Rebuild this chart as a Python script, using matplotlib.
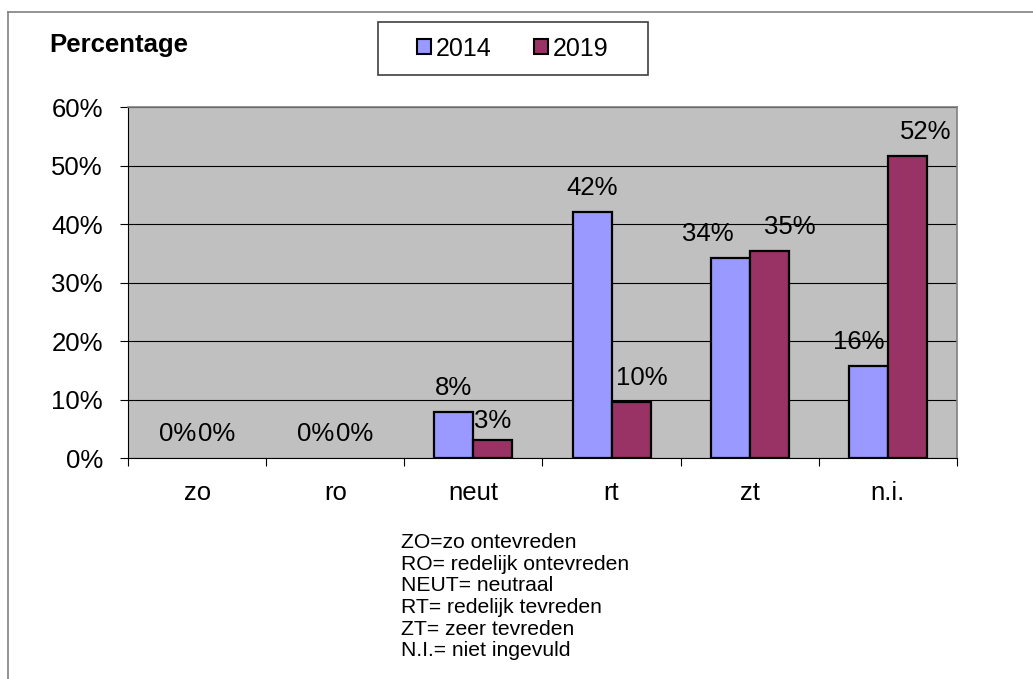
import matplotlib
matplotlib.use("Agg")
import matplotlib.pyplot as plt
from matplotlib.lines import Line2D
from matplotlib.patches import Rectangle, Patch
import numpy as np

plt.rcParams['font.family'] = ['Liberation Sans', 'DejaVu Sans']

categories = ['zo', 'ro', 'neut', 'rt', 'zt', 'n.i.']
years = ['2014', '2019']
vals_2014 = [0, 0, 8.0, 42.1, 34.2, 15.7]
vals_2019 = [0, 0, 3.2, 9.7, 35.4, 51.6]
yticks = [0, 10, 20, 30, 40, 50, 60]
notes = ['ZO=zo ontevreden', 'RO= redelijk ontevreden', 'NEUT= neutraal',
         'RT= redelijk tevreden', 'ZT= zeer tevreden', 'N.I.= niet ingevuld']

colors = ['#9999FF', '#993366']
# label shifts in pixels (Excel moves them to avoid overlap)
shift_2014 = [(0, 17), (0, 17), (0, 17), (0, 17), (-22, 17), (-10, 17)]
shift_2019 = [(0, 17), (0, 17), (0, 12), (11, 17), (21, 17), (18, 17)]

fig = plt.figure(figsize=(10.33, 6.79), dpi=100)
ax = fig.add_axes([0.1239, 0.3248, 0.8025, 0.5176])
ax.set_facecolor('#C0C0C0')

x = np.arange(len(categories))
w = 0.282
series = [vals_2014, vals_2019]
shifts = [shift_2014, shift_2019]
for i in range(2):
    pos = x + (i - 0.5) * w
    lws = [1.6 if v > 0 else 0 for v in series[i]]
    ax.bar(pos, series[i], w, color=colors[i], edgecolor='black', linewidth=lws,
           zorder=3, label=years[i])
    for p, v, s in zip(pos, series[i], shifts[i]):
        ax.annotate('%d%%' % round(v), (p, v), xytext=s, textcoords='offset pixels',
                    ha='center', va='baseline', fontsize=18.5, zorder=4)

ax.set_xlim(-0.5, len(categories) - 0.5)
ax.set_ylim(0, 60)
ax.set_yticks(yticks)
ax.set_yticklabels(['%d%%' % t for t in yticks], fontsize=18.5)
ax.yaxis.grid(True, color='black', linewidth=0.8, zorder=1)
ax.set_axisbelow(True)
ax.tick_params(axis='y', length=6, width=0.8, pad=12)

ax.set_xticks(x)
ax.set_xticklabels(categories, fontsize=18.5)
ax.tick_params(axis='x', which='major', length=0, pad=16)
ax.set_xticks(np.arange(len(categories) + 1) - 0.5, minor=True)
ax.tick_params(axis='x', which='minor', length=6, width=0.8, direction='out')

for side in ['top', 'right']:
    ax.spines[side].set_color('#808080')
    ax.spines[side].set_linewidth(1.2)
for side in ['left', 'bottom']:
    ax.spines[side].set_color('black')
    ax.spines[side].set_linewidth(0.8)

W, H = 1033, 679
# outer chart frame, cut off at right and bottom
fig.add_artist(Line2D([8 / W, 1], [1 - 12 / H, 1 - 12 / H], color='#808080', lw=1.2))
fig.add_artist(Line2D([8 / W, 8 / W], [0, 1 - 12 / H], color='#808080', lw=1.2))

fig.text(49 / W, 1 - 52 / H, 'Percentage', fontsize=18.5, fontweight='bold', va='baseline')

# legend box
fig.add_artist(Rectangle((378 / W, 1 - 75 / H), 270 / W, 53 / H, transform=fig.transFigure,
                         facecolor='white', edgecolor='#404040', lw=1.2))
handles = [Patch(facecolor=colors[i], edgecolor='black', lw=1.5, label=years[i]) for i in range(2)]
fig.legend(handles=handles, loc='center', bbox_to_anchor=(513 / W, 1 - 48.5 / H), ncol=2,
           frameon=False, fontsize=18, handlelength=0.55, handleheight=0.55,
           handletextpad=0.2, columnspacing=1.7)

for k, line in enumerate(notes):
    fig.text(401 / W, 1 - (548 + 21.7 * k) / H, line, fontsize=15.2, va='baseline')

fig.savefig('out.png', dpi=100)
